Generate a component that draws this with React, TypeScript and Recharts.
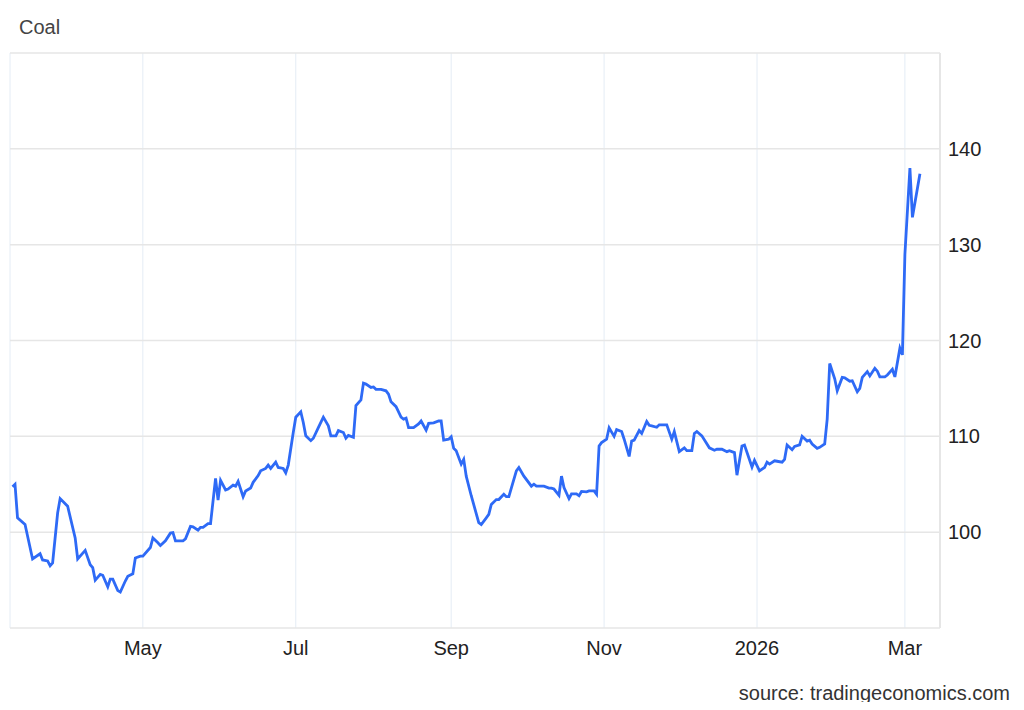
import { LineChart, Line, XAxis, YAxis, CartesianGrid } from 'recharts';

const dates = [
  '2025-03-10', '2025-03-11', '2025-03-12', '2025-03-15', '2025-03-18', '2025-03-21', '2025-03-22', '2025-03-24',
  '2025-03-25', '2025-03-26', '2025-03-28', '2025-03-29',
  '2025-04-01', '2025-04-04', '2025-04-05', '2025-04-08', '2025-04-10', '2025-04-11', '2025-04-12', '2025-04-14',
  '2025-04-15', '2025-04-17', '2025-04-18', '2025-04-19', '2025-04-21', '2025-04-22', '2025-04-24', '2025-04-25',
  '2025-04-27', '2025-04-28', '2025-04-30',
  '2025-05-01', '2025-05-04', '2025-05-05', '2025-05-07', '2025-05-08', '2025-05-10', '2025-05-12', '2025-05-13',
  '2025-05-14', '2025-05-17', '2025-05-18', '2025-05-20', '2025-05-21', '2025-05-23', '2025-05-24', '2025-05-25',
  '2025-05-27', '2025-05-28', '2025-05-30', '2025-05-31',
  '2025-06-01', '2025-06-03', '2025-06-04', '2025-06-06', '2025-06-07', '2025-06-08', '2025-06-10', '2025-06-11',
  '2025-06-13', '2025-06-14', '2025-06-16', '2025-06-17', '2025-06-19', '2025-06-20', '2025-06-21', '2025-06-23',
  '2025-06-24', '2025-06-26', '2025-06-27', '2025-06-28', '2025-06-30',
  '2025-07-01', '2025-07-03', '2025-07-04', '2025-07-05', '2025-07-07', '2025-07-08', '2025-07-10', '2025-07-12',
  '2025-07-14', '2025-07-15', '2025-07-17', '2025-07-18', '2025-07-20', '2025-07-21', '2025-07-22', '2025-07-24',
  '2025-07-25', '2025-07-27', '2025-07-28', '2025-07-29', '2025-07-31',
  '2025-08-01', '2025-08-02', '2025-08-04', '2025-08-06', '2025-08-07', '2025-08-08', '2025-08-10', '2025-08-12',
  '2025-08-13', '2025-08-14', '2025-08-15', '2025-08-17', '2025-08-19', '2025-08-20', '2025-08-22', '2025-08-23',
  '2025-08-25', '2025-08-27', '2025-08-28', '2025-08-29', '2025-08-31',
  '2025-09-01', '2025-09-02', '2025-09-03', '2025-09-05', '2025-09-06', '2025-09-07', '2025-09-09', '2025-09-12',
  '2025-09-13', '2025-09-15', '2025-09-16', '2025-09-17', '2025-09-19', '2025-09-20', '2025-09-22', '2025-09-23',
  '2025-09-24', '2025-09-27', '2025-09-28', '2025-09-30',
  '2025-10-03', '2025-10-04', '2025-10-05', '2025-10-08', '2025-10-10', '2025-10-11', '2025-10-12', '2025-10-14',
  '2025-10-15', '2025-10-16', '2025-10-18', '2025-10-19', '2025-10-21', '2025-10-22', '2025-10-23', '2025-10-25',
  '2025-10-26', '2025-10-28', '2025-10-29', '2025-10-30', '2025-10-31',
  '2025-11-02', '2025-11-03', '2025-11-05', '2025-11-06', '2025-11-08', '2025-11-09', '2025-11-11', '2025-11-12',
  '2025-11-13', '2025-11-15', '2025-11-16', '2025-11-18', '2025-11-19', '2025-11-20', '2025-11-22', '2025-11-23',
  '2025-11-26', '2025-11-28', '2025-11-29',
  '2025-12-01', '2025-12-03', '2025-12-04', '2025-12-06', '2025-12-07', '2025-12-08', '2025-12-10', '2025-12-13',
  '2025-12-15', '2025-12-16', '2025-12-18', '2025-12-20', '2025-12-21', '2025-12-23', '2025-12-24', '2025-12-26',
  '2025-12-27', '2025-12-30', '2025-12-31',
  '2026-01-02', '2026-01-04', '2026-01-05', '2026-01-06', '2026-01-08', '2026-01-09', '2026-01-11', '2026-01-12',
  '2026-01-13', '2026-01-15', '2026-01-16', '2026-01-18', '2026-01-19', '2026-01-21', '2026-01-22', '2026-01-23',
  '2026-01-25', '2026-01-26', '2026-01-28', '2026-01-29', '2026-01-30',
  '2026-02-01', '2026-02-02', '2026-02-04', '2026-02-05', '2026-02-07', '2026-02-08', '2026-02-10', '2026-02-11',
  '2026-02-12', '2026-02-14', '2026-02-15', '2026-02-17', '2026-02-18', '2026-02-19', '2026-02-21', '2026-02-22',
  '2026-02-24', '2026-02-25', '2026-02-27', '2026-02-28',
  '2026-03-01', '2026-03-03', '2026-03-04', '2026-03-07',
];

const prices = [
  104.75, 105.0, 101.5, 100.8, 97.2, 97.75, 97.1, 97.0,
  96.5, 96.8, 102.0, 103.5,
  102.7, 99.4, 97.2, 98.1, 96.6, 96.3, 95.0, 95.6,
  95.5, 94.3, 95.1, 95.1, 93.9, 93.75, 94.9, 95.4,
  95.65, 97.3, 97.5,
  97.5, 98.4, 99.4, 98.9, 98.6, 99.1, 99.9, 99.95,
  99.1, 99.1, 99.3, 100.6, 100.55, 100.2, 100.5, 100.5,
  100.9, 100.9, 105.6, 103.35,
  105.4, 104.4, 104.5, 104.9, 104.8, 105.3, 103.7, 104.3,
  104.6, 105.2, 105.9, 106.4, 106.65, 107.0, 106.65, 107.3,
  106.75, 106.65, 106.2, 107.0, 110.4,
  112.0, 112.55, 111.45, 110.05, 109.55, 109.8, 110.9, 112.0,
  111.1, 110.05, 110.05, 110.6, 110.4, 109.8, 110.1, 109.9,
  113.2, 113.8, 115.55, 115.45, 115.1,
  115.15, 114.9, 114.9, 114.75, 114.4, 113.6, 113.1, 112.0,
  111.8, 111.9, 110.9, 110.9, 111.3, 111.6, 110.65, 111.35,
  111.4, 111.6, 111.6, 109.6, 109.7,
  109.95, 108.75, 108.5, 107.1, 107.6, 105.85, 103.8, 101.0,
  100.8, 101.5, 101.85, 102.9, 103.4, 103.4, 103.95, 103.7,
  103.7, 106.4, 106.75, 105.85,
  104.8, 105.0, 104.8, 104.8, 104.6, 104.6, 104.5, 103.85,
  105.85, 104.65, 103.5, 104.0, 104.0, 103.8, 104.25, 104.2,
  104.3, 104.3, 103.95, 109.0, 109.35,
  109.7, 110.9, 110.0, 110.7, 110.5, 109.7, 107.9, 109.5,
  109.6, 110.6, 110.3, 111.55, 111.15, 111.1, 110.95, 111.2,
  111.2, 109.7, 110.5,
  108.4, 108.8, 108.5, 108.5, 110.3, 110.5, 110.05, 108.8,
  108.55, 108.65, 108.65, 108.4, 108.5, 108.3, 105.95, 109.0,
  109.1, 106.8, 107.5,
  106.4, 106.75, 107.3, 107.1, 107.45, 107.4, 107.3, 107.6,
  109.1, 108.6, 108.95, 109.1, 110.0, 109.5, 109.6, 109.2,
  108.75, 108.85, 109.2, 111.8, 117.6,
  116.0, 114.75, 116.15, 116.1, 115.75, 115.8, 114.65, 115.0,
  116.15, 116.75, 116.3, 117.1, 116.8, 116.2, 116.2, 116.4,
  117.0, 116.2, 119.2, 118.5,
  129.0, 138.0, 132.85, 137.4,
];

const tickDates = ['2025-05-01', '2025-07-01', '2025-09-01', '2025-11-01', '2026-01-01', '2026-03-01'];
const tickLabels = ['May', 'Jul', 'Sep', 'Nov', '2026', 'Mar'];
const yTicks = [90, 100, 110, 120, 130, 140, 150];
const yLabelled = [100, 110, 120, 130, 140];
const xRange = ['2025-03-09', '2026-03-15'];

const data = dates.map((d, i) => ({ t: Date.parse(d), price: prices[i] }));
const xTicks = tickDates.map((d) => Date.parse(d));
const xDomain = xRange.map((d) => Date.parse(d));

const FONT = '"Liberation Sans", Arial, Helvetica, sans-serif';

export default function App() {
  return (
    <div style={{ position: 'relative', width: 1016, height: 694, fontFamily: FONT }}>
      <div style={{ position: 'absolute', left: 11, top: 8, fontSize: 20, color: '#444' }}>Coal</div>
      <LineChart width={1016} height={694} data={data} margin={{ top: 45, right: 24, left: 2, bottom: 44 }}>
        <CartesianGrid horizontal={false} stroke="#e4ecf5" strokeWidth={1} />
        <CartesianGrid vertical={false} stroke="#e6e6e6" strokeWidth={1.5} />
        <XAxis
          dataKey="t"
          type="number"
          scale="time"
          domain={xDomain}
          ticks={xTicks}
          tickFormatter={(v) => tickLabels[xTicks.indexOf(v)] ?? ''}
          tick={{ fontSize: 20, fill: '#222', fontFamily: FONT }}
          tickLine={false}
          tickSize={0}
          tickMargin={13}
          axisLine={false}
          height={30}
        />
        <YAxis
          orientation="right"
          type="number"
          domain={[90, 150]}
          ticks={yTicks}
          tickFormatter={(v) => (yLabelled.includes(v) ? String(v) : '')}
          tick={{ fontSize: 20, fill: '#222', fontFamily: FONT }}
          tickLine={false}
          tickSize={0}
          tickMargin={8}
          axisLine={{ stroke: '#e6e6e6', strokeWidth: 2 }}
          width={60}
        />
        <Line
          type="linear"
          dataKey="price"
          stroke="#2e6af6"
          strokeWidth={2.8}
          dot={false}
          isAnimationActive={false}
        />
      </LineChart>
      <div style={{ position: 'absolute', right: 14, top: 674, fontSize: 20, color: '#333' }}>
        source: tradingeconomics.com
      </div>
    </div>
  );
}
